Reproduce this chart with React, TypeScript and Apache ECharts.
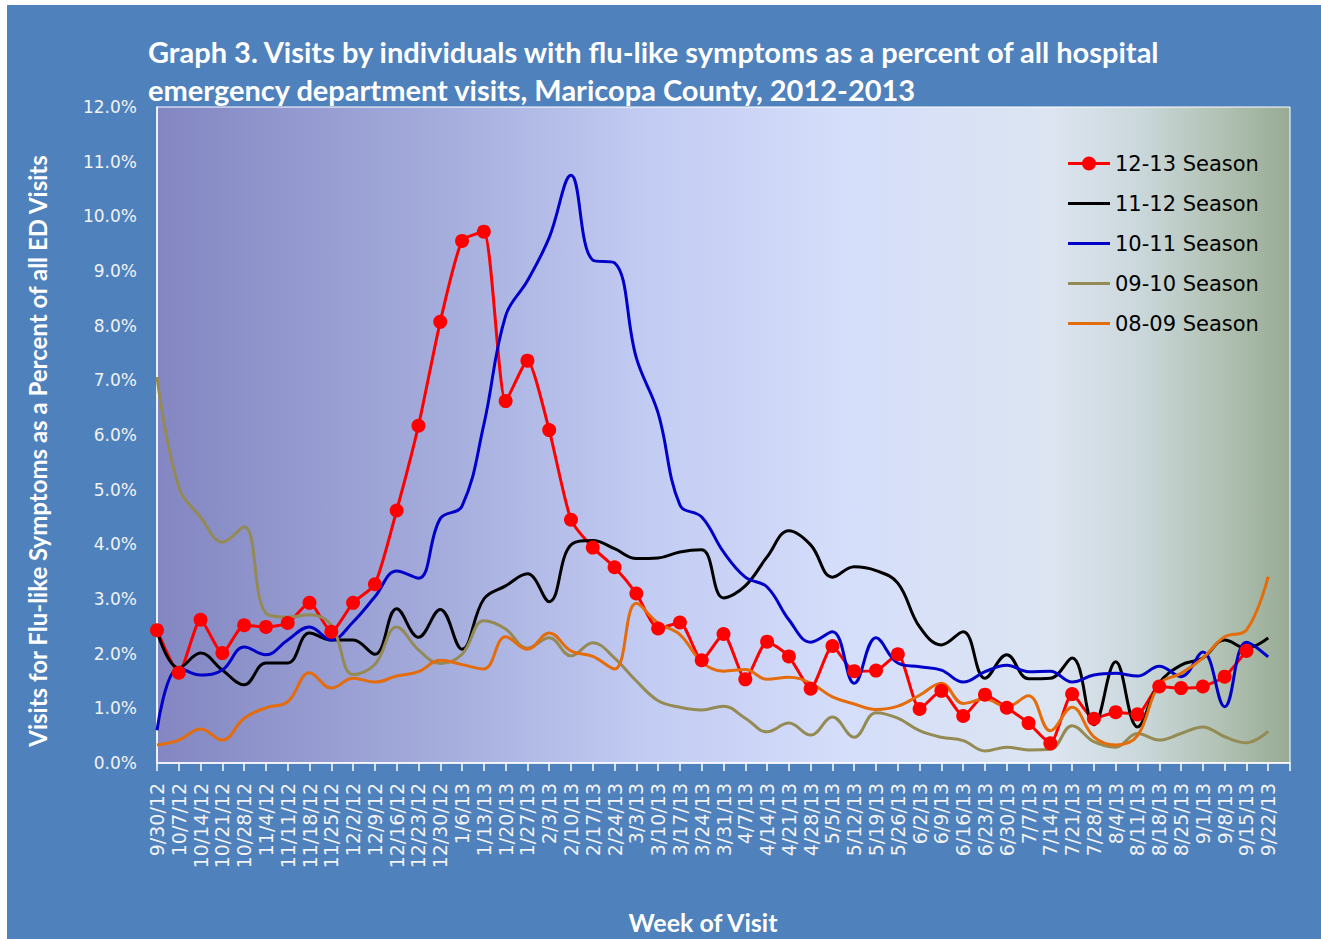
import React, { useEffect, useRef } from "react";
import * as echarts from "echarts";

const weeks = [
  "9/30/12", "10/7/12", "10/14/12", "10/21/12", "10/28/12", "11/4/12", "11/11/12", "11/18/12", "11/25/12",
  "12/2/12", "12/9/12", "12/16/12", "12/23/12", "12/30/12", "1/6/13", "1/13/13", "1/20/13", "1/27/13",
  "2/3/13", "2/10/13", "2/17/13", "2/24/13", "3/3/13", "3/10/13", "3/17/13", "3/24/13", "3/31/13",
  "4/7/13", "4/14/13", "4/21/13", "4/28/13", "5/5/13", "5/12/13", "5/19/13", "5/26/13", "6/2/13",
  "6/9/13", "6/16/13", "6/23/13", "6/30/13", "7/7/13", "7/14/13", "7/21/13", "7/28/13", "8/4/13",
  "8/11/13", "8/18/13", "8/25/13", "9/1/13", "9/8/13", "9/15/13", "9/22/13", "",
];

const season1213 = [
  2.43, 1.65, 2.62, 2.01, 2.52, 2.49, 2.56, 2.93, 2.40, 2.93, 3.27, 4.62, 6.17, 8.07, 9.55, 9.72, 6.62, 7.36,
  6.09, 4.45, 3.94, 3.58, 3.10, 2.46, 2.57, 1.88, 2.36, 1.53, 2.22, 1.95, 1.36, 2.14, 1.68, 1.69, 1.99, 0.99,
  1.32, 0.86, 1.25, 1.01, 0.73, 0.36, 1.26, 0.81, 0.93, 0.89, 1.40, 1.37, 1.40, 1.58, 2.05, null,
];
const season1112 = [
  2.41, 1.74, 2.01, 1.70, 1.43, 1.83, 1.83, 2.38, 2.25, 2.25, 1.99, 2.82, 2.30, 2.81, 2.08, 3.0, 3.24, 3.46,
  2.95, 3.99, 4.07, 3.92, 3.74, 3.75, 3.86, 3.90, 3.02, 3.24, 3.77, 4.25, 3.99, 3.40, 3.59, 3.52, 3.29, 2.49,
  2.16, 2.40, 1.55, 1.98, 1.54, 1.55, 1.92, 0.70, 1.85, 0.66, 1.46, 1.79, 1.92, 2.25, 2.10, 2.29,
];
const season1011 = [
  0.60, 1.74, 1.61, 1.70, 2.12, 1.98, 2.25, 2.49, 2.25, 2.58, 3.04, 3.51, 3.38, 4.47, 4.70, 6.19, 8.18, 8.82,
  9.61, 10.75, 9.20, 9.15, 7.41, 6.40, 4.72, 4.50, 3.86, 3.40, 3.22, 2.62, 2.21, 2.40, 1.46, 2.29, 1.83, 1.76,
  1.70, 1.48, 1.67, 1.79, 1.67, 1.68, 1.48, 1.61, 1.64, 1.59, 1.77, 1.58, 2.03, 1.03, 2.21, 1.94,
];
const season0910 = [
  7.06, 5.05, 4.50, 4.04, 4.32, 2.74, 2.67, 2.71, 2.52, 1.62, 1.80, 2.49, 2.07, 1.82, 1.99, 2.60, 2.45, 2.10,
  2.29, 1.96, 2.20, 1.92, 1.50, 1.14, 1.02, 0.97, 1.04, 0.82, 0.57, 0.73, 0.51, 0.84, 0.47, 0.92, 0.82, 0.59,
  0.47, 0.41, 0.22, 0.29, 0.24, 0.25, 0.68, 0.39, 0.29, 0.54, 0.42, 0.54, 0.66, 0.48, 0.37, 0.58,
];
const season0809 = [
  0.33, 0.42, 0.62, 0.42, 0.82, 1.01, 1.12, 1.65, 1.37, 1.55, 1.48, 1.59, 1.67, 1.88, 1.80, 1.72, 2.31, 2.08,
  2.38, 2.05, 1.95, 1.72, 2.92, 2.56, 2.35, 1.85, 1.68, 1.71, 1.53, 1.57, 1.46, 1.21, 1.08, 0.98, 1.04, 1.24,
  1.46, 1.09, 1.17, 1.03, 1.23, 0.59, 1.02, 0.48, 0.33, 0.50, 1.44, 1.64, 1.92, 2.31, 2.43, 3.41,
];

const seriesNames = ["12-13 Season", "11-12 Season", "10-11 Season", "09-10 Season", "08-09 Season"];
const seriesColors = ["#FF0000", "#000000", "#0000C8", "#948A54", "#E46C0A"];
const seriesData = [season1213, season1112, season1011, season0910, season0809];

const titleText =
  "Graph 3. Visits by individuals with flu-like symptoms as a percent of all hospital\nemergency department visits, Maricopa County, 2012-2013";

// legend icons drawn in a 42 x 14 box
const iconLine =
  "path://M0,0 L0.01,0 L0.01,0.01 Z M0,5.5 L42,5.5 L42,8.5 L0,8.5 Z M41.99,14 L42,14 L42,13.99 Z";
const iconLineDot =
  "path://M0,5.5 L42,5.5 L42,8.5 L0,8.5 Z M21,0 A7,7 0 1,1 21,14 A7,7 0 1,1 21,0 Z";

export default function App() {
  const ref = useRef<HTMLDivElement>(null);

  useEffect(() => {
    document.body.style.margin = "0";
    if (!ref.current) return;
    const chart = echarts.init(ref.current, undefined, { renderer: "svg" });

    const series = seriesNames.map((name, i) => ({
      name,
      type: "line",
      data: seriesData[i],
      smooth: i === 0 ? 0.2 : 0.4,
      showSymbol: i === 0,
      symbol: i === 0 ? "circle" : "none",
      symbolSize: 14,
      lineStyle: { color: seriesColors[i], width: 3 },
      itemStyle: { color: seriesColors[i] },
      connectNulls: false,
    }));

    chart.setOption({
      animation: false,
      backgroundColor: "#4F81BD",
      title: {
        text: titleText,
        left: 143,
        top: 27,
        textStyle: {
          color: "#FFFFFF",
          fontFamily: "Lato",
          fontWeight: "bold",
          fontSize: 29,
          lineHeight: 38,
        },
      },
      graphic: [
        { type: "rect", shape: { x: 0, y: 0, width: 1321, height: 5 }, style: { fill: "#FFFFFF" }, silent: true },
        { type: "rect", shape: { x: 0, y: 0, width: 7, height: 939 }, style: { fill: "#FFFFFF" }, silent: true },
        {
          type: "text",
          x: 37,
          y: 451,
          rotation: Math.PI / 2,
          style: {
            text: "Visits for Flu-like Symptoms as a Percent of all ED Visits",
            fill: "#FFFFFF",
            font: "bold 24px Lato",
            textAlign: "center",
            textVerticalAlign: "middle",
          },
        },
        {
          type: "text",
          x: 703,
          y: 922,
          style: {
            text: "Week of Visit",
            fill: "#FFFFFF",
            font: "bold 25px Lato",
            textAlign: "center",
            textVerticalAlign: "middle",
          },
        },
      ],
      legend: {
        orient: "vertical",
        left: 1063,
        top: 148,
        itemWidth: 42,
        itemHeight: 14,
        itemGap: 19,
        data: seriesNames.map((name, i) => ({ name, icon: i === 0 ? iconLineDot : iconLine })),
        textStyle: { color: "#000000", fontFamily: "DejaVu Sans", fontSize: 21 },
      },
      grid: {
        left: 157,
        right: 31,
        top: 107,
        bottom: 176,
        show: true,
        borderColor: "#FFFFFF",
        borderWidth: 1,
        backgroundColor: new echarts.graphic.LinearGradient(0, 0, 1, 0, [
          { offset: 0, color: "#8386C2" },
          { offset: 0.26, color: "#A6AEDD" },
          { offset: 0.43, color: "#C2CBF2" },
          { offset: 0.61, color: "#D5DEFA" },
          { offset: 0.79, color: "#DCE5F1" },
          { offset: 0.87, color: "#CAD7DA" },
          { offset: 0.94, color: "#B1C1B3" },
          { offset: 1, color: "#97AB94" },
        ]),
      },
      xAxis: {
        type: "category",
        data: weeks,
        boundaryGap: false,
        axisLine: { show: true, lineStyle: { color: "#FFFFFF", width: 1.5 } },
        axisTick: { show: true, interval: 0, length: 8, lineStyle: { color: "#FFFFFF", width: 1.5 } },
        axisLabel: {
          interval: 0,
          rotate: 90,
          margin: 20,
          color: "#F2F2F2",
          fontFamily: "DejaVu Sans",
          fontSize: 19,
        },
        splitLine: { show: false },
      },
      yAxis: {
        type: "value",
        min: 0,
        max: 12,
        interval: 1,
        axisLine: { show: true, lineStyle: { color: "#FFFFFF", width: 1.5 } },
        axisTick: { show: false },
        splitLine: { show: false },
        axisLabel: {
          margin: 20,
          color: "#F2F2F2",
          fontFamily: "DejaVu Sans",
          fontSize: 17,
          formatter: (v: number) => v.toFixed(1) + "%",
        },
      },
      series,
    });

    return () => chart.dispose();
  }, []);

  return <div ref={ref} style={{ width: 1321, height: 939 }} />;
}
